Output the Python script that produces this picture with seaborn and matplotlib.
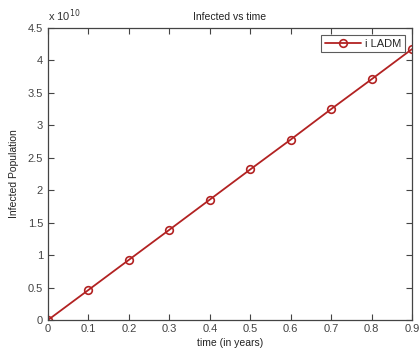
import matplotlib
matplotlib.use("Agg")
import matplotlib.pyplot as plt
import seaborn as sns
import pandas as pd

time_years = [0.0, 0.1, 0.2, 0.3, 0.4, 0.5, 0.6, 0.7, 0.8, 0.9]
infected = [0.0, 0.463e10, 0.927e10, 1.39e10, 1.855e10, 2.32e10, 2.78e10, 3.25e10, 3.71e10, 4.175e10]
series_name = "i LADM"
x_ticks = [0, 0.1, 0.2, 0.3, 0.4, 0.5, 0.6, 0.7, 0.8, 0.9]
y_ticks = [0, 0.5e10, 1e10, 1.5e10, 2e10, 2.5e10, 3e10, 3.5e10, 4e10, 4.5e10]
y_tick_labels = ["0", "0.5", "1", "1.5", "2", "2.5", "3", "3.5", "4", "4.5"]

df = pd.DataFrame({"time": time_years, "infected": infected, "series": series_name})

sns.set_style("white")
plt.rcParams['font.family'] = ['Liberation Sans', 'DejaVu Sans']

fig = plt.figure(figsize=(4.19, 3.52), dpi=100)
ax = fig.add_axes([48/419, 32/352, 364/419, 292/352])

line_color = "#b22222"
sns.lineplot(data=df, x="time", y="infected", ax=ax, color=line_color,
             marker="o", markersize=5.5, markerfacecolor="none",
             markeredgecolor=line_color, markeredgewidth=1.2, linewidth=1.3,
             label=series_name)

ax.set_xlim(0, 0.9)
ax.set_ylim(0, 4.5e10)
ax.set_xticks(x_ticks)
ax.set_xticklabels([f"{t:g}" for t in x_ticks])
ax.set_yticks(y_ticks)
ax.set_yticklabels(y_tick_labels)
ax.tick_params(direction="in", length=4, width=0.8, labelsize=8, colors="#444444",
               top=True, right=True, bottom=True, left=True)
ax.tick_params(axis="x", pad=3)
for s in ax.spines.values():
    s.set_visible(True)
    s.set_color("#444444")
    s.set_linewidth(0.9)

ax.set_xlabel("time (in years)", fontsize=7.5, color="#222222", labelpad=3)
ax.set_ylabel("Infected Population", fontsize=7.5, color="#222222", labelpad=6)
ax.set_title("Infected vs time", fontsize=7.5, color="#222222", pad=6)
ax.text(0.0, 1.012, r"x 10$^{10}$", transform=ax.transAxes, fontsize=8,
        color="#333333", ha="left", va="bottom")

leg = ax.legend(loc="upper right", fontsize=8, frameon=True, fancybox=False,
                borderaxespad=0.6, handlelength=3.2, handletextpad=0.4, borderpad=0.35)
leg.get_frame().set_edgecolor("#333333")
leg.get_frame().set_linewidth(0.8)

fig.savefig("out.png", dpi=100)
